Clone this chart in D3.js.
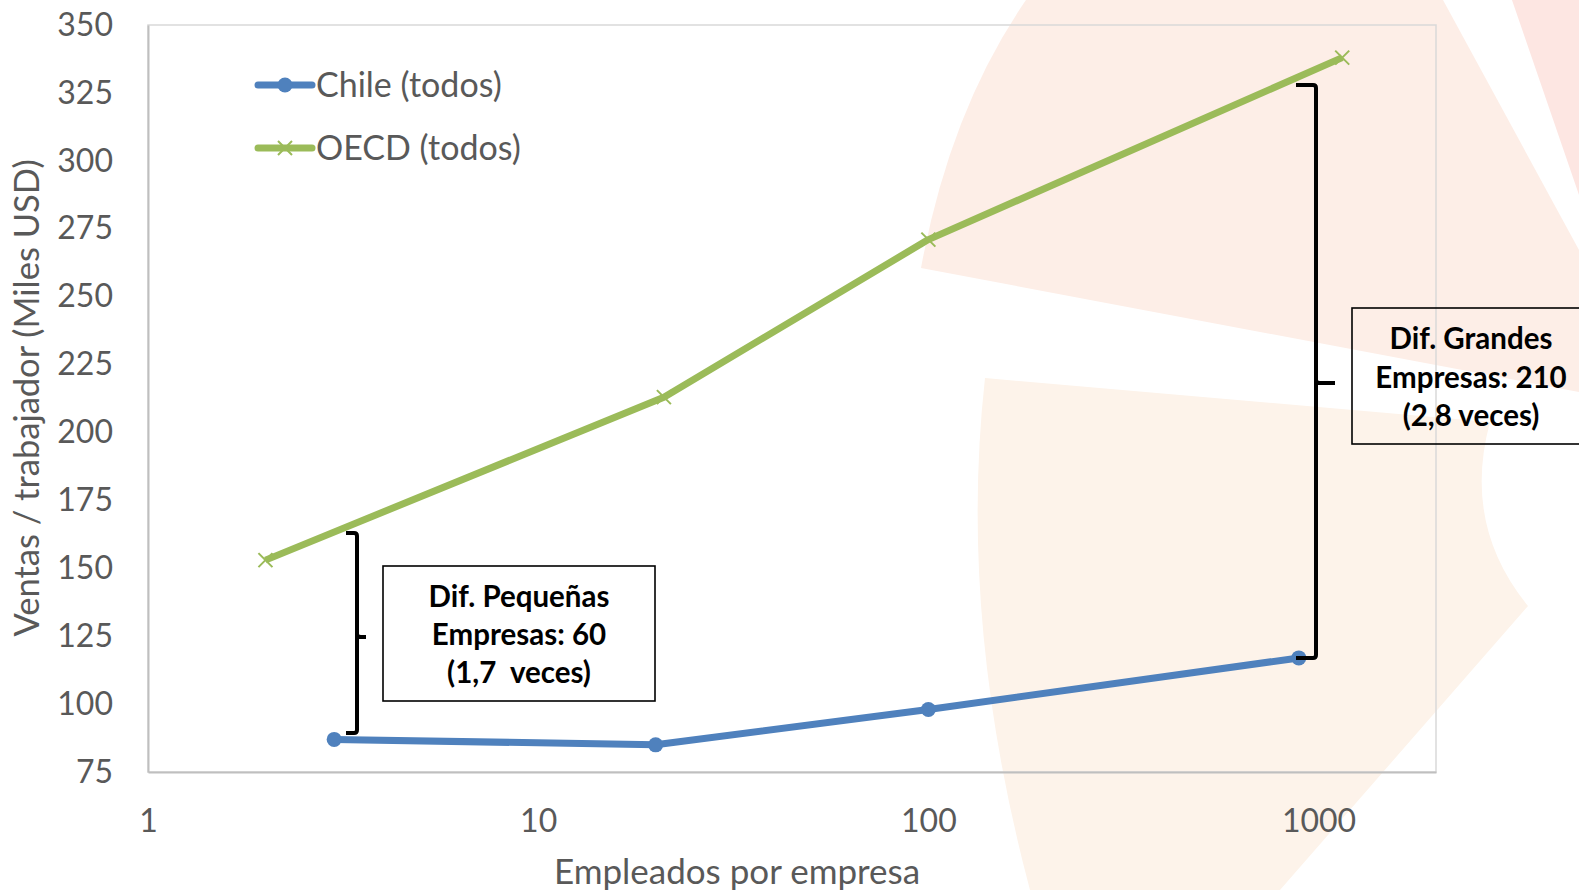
<!DOCTYPE html>
<html><head><meta charset="utf-8">
<script src="https://cdn.jsdelivr.net/npm/d3@7"></script>
<style>
html,body{margin:0;padding:0;background:#fff;}
svg{display:block;font-family:Lato,"Open Sans",sans-serif;}
</style></head>
<body>
<svg id="chart" width="1579" height="890"></svg>
<script>
// ---- data ----
const chileX = [3, 20, 100, 890];
const chileY = [87, 85, 98, 117];
const oecdX = [2, 21, 100, 1150];
const oecdY = [153, 213, 271, 338];
const seriesNames = ["Chile (todos)", "OECD (todos)"];
const yTicks = [75, 100, 125, 150, 175, 200, 225, 250, 275, 300, 325, 350];
const xTicks = [1, 10, 100, 1000];
const xTitle = "Empleados por empresa";
const yTitle = "Ventas / trabajador (Miles USD)";
const noteSmall = ["Dif. Pequeñas", "Empresas: 60", "(1,7  veces)"];
const noteLarge = ["Dif. Grandes", "Empresas: 210", "(2,8 veces)"];

const svg = d3.select("#chart");
const plot = {l: 148, r: 1436, t: 25, b: 772};

// ---- decorative background ----
const bg = svg.append("g");
bg.append("path").attr("d","M1026,0 L1443,0 L1579,250 L1579,392 L921,268 Q950,110 1026,0 Z").attr("fill","#fdeee7");
bg.append("path").attr("d","M1512,0 L1579,0 L1579,195 Z").attr("fill","#fde6e2");
bg.append("path").attr("d","M985,378 L1490,422 Q1462,525 1528,606 L1280,890 L1030,890 Q958,620 985,378 Z").attr("fill","#fdf3ea");

// ---- scales ----
const x = d3.scaleLog().domain([1, 2000]).range([plot.l, plot.r]);
const y = d3.scaleLinear().domain([75, 350]).range([plot.b, plot.t]);

// plot border
svg.append("rect").attr("x", plot.l).attr("y", plot.t)
  .attr("width", plot.r - plot.l).attr("height", plot.b - plot.t)
  .attr("fill", "none").attr("stroke", "#d9d9d9").attr("stroke-width", 1.5);

// axes
const yAxis = svg.append("g").attr("transform", `translate(${plot.l},0)`)
  .call(d3.axisLeft(y).tickValues(yTicks).tickSize(0).tickPadding(35));
const xAxis = svg.append("g").attr("transform", `translate(0,${plot.b})`)
  .call(d3.axisBottom(x).tickValues(xTicks).tickFormat(d3.format("d")).tickSize(0).tickPadding(37));
[yAxis, xAxis].forEach(a => {
  a.select(".domain").attr("stroke", "#bfbfbf").attr("stroke-width", 2);
  a.selectAll("text").attr("fill", "#595959").style("font-size", "32px").style("font-family", "Lato");
});

// axis titles
svg.append("text").attr("x", 737).attr("y", 884).attr("text-anchor", "middle")
  .attr("fill", "#595959").style("font-size", "35px").text(xTitle);
svg.append("text").attr("transform", "translate(39,398) rotate(-90)").attr("text-anchor", "middle")
  .attr("fill", "#595959").style("font-size", "34.5px").text(yTitle);

// ---- series ----
const chile = chileX.map((d, i) => [d, chileY[i]]);
const oecd = oecdX.map((d, i) => [d, oecdY[i]]);
const line = d3.line().x(d => x(d[0])).y(d => y(d[1]));
const blue = "#4f81bd", green = "#9bbb59";

svg.append("path").datum(oecd).attr("d", line).attr("fill", "none")
  .attr("stroke", green).attr("stroke-width", 7).attr("stroke-linejoin", "round");
const xs = 7;
svg.append("g").selectAll("path").data(oecd).join("path")
  .attr("d", d => { const px = x(d[0]), py = y(d[1]);
    return `M${px-xs},${py-xs}L${px+xs},${py+xs}M${px-xs},${py+xs}L${px+xs},${py-xs}`; })
  .attr("stroke", green).attr("stroke-width", 2);

svg.append("path").datum(chile).attr("d", line).attr("fill", "none")
  .attr("stroke", blue).attr("stroke-width", 7).attr("stroke-linejoin", "round");
svg.append("g").selectAll("circle").data(chile).join("circle")
  .attr("cx", d => x(d[0])).attr("cy", d => y(d[1])).attr("r", 7.5).attr("fill", blue);

// ---- legend ----
const leg = svg.append("g");
[[seriesNames[0], blue, 85, "circle"], [seriesNames[1], green, 148, "x"]].forEach(([name, c, ly, m]) => {
  leg.append("line").attr("x1", 258).attr("x2", 312).attr("y1", ly).attr("y2", ly)
    .attr("stroke", c).attr("stroke-width", 7).attr("stroke-linecap", "round");
  if (m === "circle") leg.append("circle").attr("cx", 285).attr("cy", ly).attr("r", 7.5).attr("fill", c);
  else leg.append("path").attr("d", `M${285-xs},${ly-xs}L${285+xs},${ly+xs}M${285-xs},${ly+xs}L${285+xs},${ly-xs}`)
    .attr("stroke", c).attr("stroke-width", 2);
  leg.append("text").attr("x", 316).attr("y", ly).attr("dy", "0.35em")
    .attr("fill", "#595959").style("font-size", "34px").text(name);
});

// ---- annotations ----
function brace(xv, yTop, yBot, yMid, hookL, tipR) {
  const p = d3.path();
  p.moveTo(hookL, yTop); p.lineTo(xv - 3, yTop); p.quadraticCurveTo(xv, yTop, xv, yTop + 3);
  p.lineTo(xv, yBot - 3); p.quadraticCurveTo(xv, yBot, xv - 3, yBot); p.lineTo(hookL, yBot);
  p.moveTo(xv, yMid - 3); p.quadraticCurveTo(xv, yMid, xv + 4, yMid); p.lineTo(tipR, yMid);
  svg.append("path").attr("d", p.toString()).attr("fill", "none")
    .attr("stroke", "#000").attr("stroke-width", 4);
}
brace(357, 533, 733, 637, 346, 366);
brace(1316, 85, 658, 383, 1296, 1335);

function note(lines, bx, by, bw, bh, cx, ys, fill) {
  svg.append("rect").attr("x", bx).attr("y", by).attr("width", bw).attr("height", bh)
    .attr("fill", fill).attr("stroke", "#000").attr("stroke-width", 1.6);
  lines.forEach((t, i) => svg.append("text").attr("x", cx).attr("y", ys[i]).attr("dy", "0.35em")
    .attr("text-anchor", "middle").attr("fill", "#000").style("font-weight", "bold")
    .style("font-size", "29.5px").style("white-space", "pre").text(t));
}
note(noteSmall, 383, 566, 272, 135, 519, [597, 635, 673], "#fff");
note(noteLarge, 1352, 308, 260, 136, 1471, [339, 378, 416], "none");
</script>
</body></html>
